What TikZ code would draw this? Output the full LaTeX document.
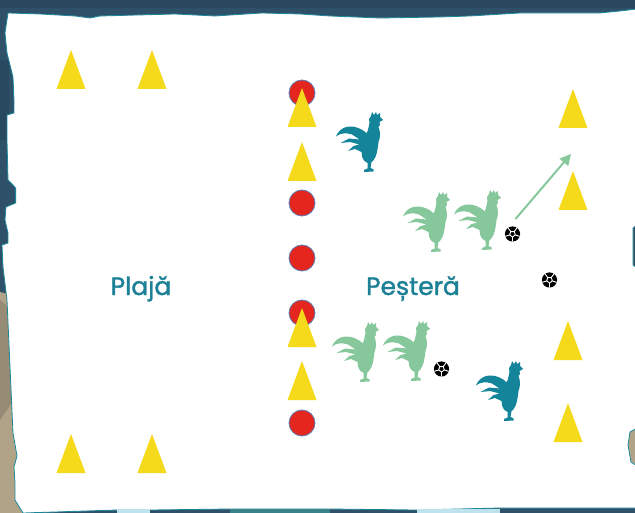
\documentclass[tikz,border=0pt]{standalone}
\usepackage{fontspec}
\newfontfamily\labelfont{Poppins}[FakeBold=1.6]
\usetikzlibrary{arrows.meta}

\definecolor{sea}{HTML}{2F5069}
\definecolor{seadark}{HTML}{25435B}
\definecolor{sand}{HTML}{B0A387}
\definecolor{sanddark}{HTML}{7E7563}
\definecolor{rim}{HTML}{1A8799}
\definecolor{foam}{HTML}{BFE3EE}
\definecolor{conecol}{HTML}{F4DA1A}
\definecolor{markercol}{HTML}{E4261F}
\definecolor{markerrim}{HTML}{5B7DB8}
\definecolor{roosterteal}{HTML}{14849B}
\definecolor{roostergreen}{HTML}{86C89C}
\definecolor{labelteal}{HTML}{1C8196}

\tikzset{
  marker/.style={circle, minimum size=26pt, inner sep=0pt, fill=markercol, draw=markerrim, line width=0.8pt},
  zone/.style={font=\labelfont\fontsize{25}{25}\selectfont, text=labelteal, anchor=base, inner sep=0pt},
  kick/.style={draw=roostergreen, line width=2pt, -{Triangle[length=11pt,width=11pt]}},
  % training cone, placed at its apex
  cone/.pic={\fill[conecol] (0,0) -- (14.5,39) -- (-14.5,39) -- cycle;},
  % football, placed at its centre
  ball/.pic={
    \fill[black] (0,0) circle (7.6);
    \draw[white, line width=0.9pt, line join=round]
      (90:3) -- (162:3) -- (234:3) -- (306:3) -- (18:3) -- cycle
      (90:3) -- (90:7.6) (162:3) -- (162:7.6) (234:3) -- (234:7.6)
      (306:3) -- (306:7.6) (18:3) -- (18:7.6);
  },
  % rooster silhouette facing right, placed at its top-left corner
  rooster/.pic={
    \fill[#1]
      (36,4) -- (37,0) -- (39,3) -- (41,0) -- (42,3) -- (45,1) -- (45,5)
      -- (48,8) -- (44.5,10) -- (45,13) -- (43.5,15)
      .. controls (45.5,20) and (45.5,25) .. (43.5,30)
      .. controls (42.5,38) and (42,44) .. (38,49)
      -- (36.5,50) -- (35.5,56) -- (38.5,57.5) -- (38.5,59.5) -- (29,60)
      -- (29,58) -- (32.5,56.5) -- (32.5,51) -- (29.5,49)
      .. controls (27,46) and (26.5,43) .. (26.5,40)
      -- (20,37) -- (13,39) -- (18.5,34) -- (24.5,32.5)
      -- (15,30) -- (5.5,31) -- (14,26.5) -- (24.5,27.5)
      -- (17,22.5)
      .. controls (11,20.5) and (5,21) .. (1,24.5)
      .. controls (4,16.5) and (12,13) .. (20,15)
      .. controls (26,16.5) and (29.5,19) .. (31.5,21.5)
      .. controls (33.5,18) and (33.5,14.5) .. (34.5,11)
      -- (34,7) -- cycle;
  }
}

\begin{document}
\begin{tikzpicture}[x=1pt,y=-1pt]
\useasboundingbox (0,0) rectangle (635,513);

% sea and rocks behind the sheet
\fill[sea] (0,0) rectangle (635,513);
\fill[seadark, opacity=0.6] (0,0) rectangle (635,8);
\fill[seadark, opacity=0.5] (0,60) rectangle (9,140);
\fill[sand] (0,292) -- (30,300) -- (30,513) -- (0,513) -- cycle;
\fill[sanddark, opacity=0.5] (0,300) -- (12,310) -- (14,400) -- (0,420) -- cycle;
\fill[sand] (620,425) -- (636,425) -- (636,470) -- (620,470) -- cycle;

% the torn sheet
\filldraw[fill=white, draw=rim, line width=0.8pt]
  (8,13) -- (40,14) -- (75,16) -- (90,18) -- (100,16) -- (175,14) -- (215,16)
  -- (262,13) -- (300,14) -- (330,16) -- (380,18) -- (440,17) -- (470,16)
  -- (520,13) -- (600,13) -- (620,11) -- (637,9)
  -- (637,225) -- (633,228) -- (633,265) -- (637,268)
  -- (637,428) -- (630,432) -- (628,445) -- (631,462) -- (637,466)
  -- (637,508) -- (500,508) -- (417,510) -- (330,509) -- (230,509) -- (150,510)
  -- (117,510) -- (23,513)
  -- (15,500) -- (15,483) -- (14,467) -- (17,456) -- (13,433) -- (10,367)
  -- (7,300) -- (3,267) -- (2,245) -- (8,243) -- (8,233) -- (5,220) -- (6,207)
  -- (15.6,203) -- (15.6,188) -- (13,185) -- (8,180) -- (7,140) -- (7,115)
  -- (14,113) -- (14,100) -- (13,77) -- (7,53) -- (5,33) -- cycle;
% light strips along the bottom edge
\fill[foam] (117,509) rectangle (150,513);
\fill[rim!70!sanddark] (230,508.5) rectangle (330,513);
\fill[foam] (417,509) rectangle (500,513);

% lane markers
\node[marker] (m1) at (302,93) {};
\node[marker] (m2) at (302,203) {};
\node[marker] (m3) at (302,258) {};
\node[marker] (m4) at (302,313) {};
\node[marker] (m5) at (302,423) {};

% cones
\pic at (71,50) {cone};
\pic at (152,50) {cone};
\pic at (71,434) {cone};
\pic at (152,434) {cone};
\pic at (302,88) {cone};
\pic at (302,142) {cone};
\pic at (302,308) {cone};
\pic at (302,361) {cone};
\pic at (573,89) {cone};
\pic at (573,171) {cone};
\pic at (568,321) {cone};
\pic at (568,403) {cone};

% roosters
\pic at (335,112) {rooster=roosterteal};
\pic at (475,361) {rooster=roosterteal};
\pic at (402,192) {rooster=roostergreen};
\pic at (453,190) {rooster=roostergreen};
\pic at (331,322) {rooster=roostergreen};
\pic at (382,321) {rooster=roostergreen};

% balls
\pic at (512.5,234) {ball};
\pic at (549.5,280) {ball};
\pic at (441.5,369) {ball};

% pass
\coordinate (passfrom) at (515.5,219);
\coordinate (passto) at (571,154);
\draw[kick] (passfrom) -- (passto);

% zones
\node[zone] (beach) at (141,295) {Plajă};
\node[zone] (cave) at (413,295) {Peșteră};
\end{tikzpicture}
\end{document}
